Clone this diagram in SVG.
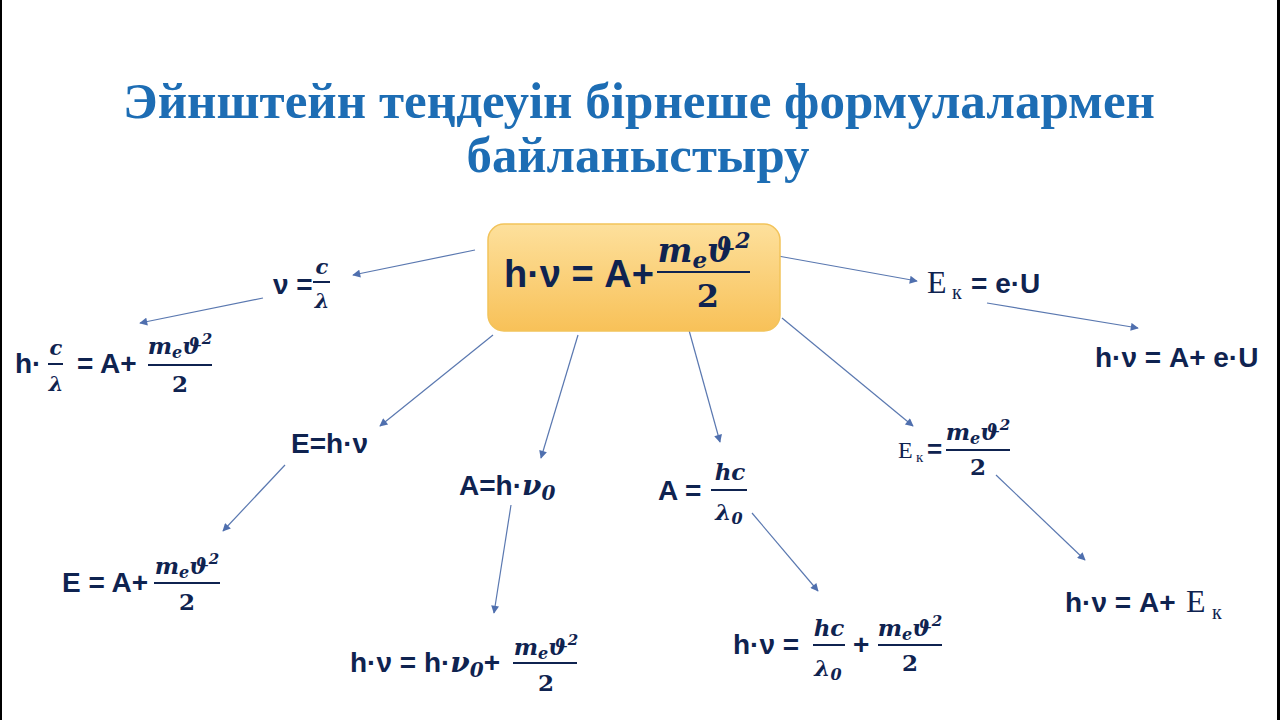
<svg xmlns="http://www.w3.org/2000/svg" width="1280" height="720" viewBox="0 0 1280 720">
<defs>
<linearGradient id="gBox" x1="0" y1="0" x2="0" y2="1">
<stop offset="0" stop-color="#fde09c"/>
<stop offset="1" stop-color="#f8c158"/>
</linearGradient>
<marker id="arr" viewBox="0 0 10 10" refX="9" refY="5" markerWidth="10" markerHeight="8" markerUnits="userSpaceOnUse" orient="auto">
<path d="M0,0 L10,5 L0,10 z" fill="#4f6fae"/>
</marker>
<style>
.t{font-family:"Liberation Serif","Times New Roman",serif;font-weight:bold;fill:#1d6db4;font-size:51px;text-anchor:middle}
.f{font-family:"Liberation Sans",Arial,sans-serif;font-weight:bold;fill:#0f2350;font-size:28px}
.m{font-family:"DejaVu Serif","Liberation Serif",serif;font-weight:bold;font-style:italic;fill:#0f2350;font-size:23px;text-anchor:middle}
.n{font-family:"DejaVu Serif","Liberation Serif",serif;font-weight:bold;fill:#0f2350;font-size:23px;text-anchor:middle}
.mi{font-family:"DejaVu Serif","Liberation Serif",serif;font-weight:bold;font-style:italic}
.s{font-family:"Liberation Serif","Times New Roman",serif;fill:#0f2350}
.fl{stroke:#0f2350;stroke-width:2}
.c{stroke:#5a78b0;stroke-width:1.2;fill:none;marker-end:url(#arr)}
</style>
</defs>
<rect width="1280" height="720" fill="#ffffff"/>
<rect x="0" y="0" width="2" height="720" fill="#000"/>
<rect x="1277" y="0" width="3" height="720" fill="#000"/>

<g id="title">
<text class="t" x="639" y="118" textLength="1032" lengthAdjust="spacingAndGlyphs">Эйнштейн теңдеуін бірнеше формулалармен</text>
<text class="t" x="638" y="172" textLength="343" lengthAdjust="spacingAndGlyphs">байланыстыру</text>
</g>

<g id="connectors">
<line class="c" x1="475" y1="250" x2="353" y2="275"/>
<line class="c" x1="263" y1="298" x2="140" y2="323"/>
<line class="c" x1="778" y1="256" x2="917" y2="281"/>
<line class="c" x1="987" y1="303" x2="1138" y2="328"/>
<line class="c" x1="493" y1="335" x2="380" y2="426"/>
<line class="c" x1="578" y1="335" x2="541" y2="458"/>
<line class="c" x1="687" y1="323" x2="720" y2="442"/>
<line class="c" x1="782" y1="318" x2="913" y2="426"/>
<line class="c" x1="285" y1="465" x2="223" y2="531"/>
<line class="c" x1="511" y1="505" x2="494" y2="613"/>
<line class="c" x1="752" y1="513" x2="818" y2="591"/>
<line class="c" x1="996" y1="475" x2="1085" y2="560"/>
</g>

<g id="center">
<rect x="488" y="224" width="292" height="107" rx="16" fill="url(#gBox)" stroke="#f2c35a" stroke-width="1.5"/>
<text class="f" x="504" y="287" style="font-size:38px">h·ν = A+</text>
<text class="m" x="704" y="262" style="font-size:33px">m<tspan font-size="23" dy="6">e</tspan><tspan dy="-6">ϑ</tspan><tspan font-size="22" dy="-14">2</tspan></text>
<line class="fl" x1="657" y1="272" x2="750" y2="272" stroke-width="3"/>
<text class="n" x="708" y="307" style="font-size:32px">2</text>
</g>

<g id="n-nu">
<text class="f" x="273" y="294">ν =</text>
<text class="m" x="322" y="274" style="font-size:21px">c</text>
<line class="fl" x1="313" y1="282" x2="330" y2="282" stroke-width="1.5"/>
<text class="m" x="322" y="308" style="font-size:21px">λ</text>
</g>

<g id="n-hc-lambda">
<text class="f" x="15" y="373">h·</text>
<text class="m" x="56" y="355" style="font-size:21px">c</text>
<line class="fl" x1="48" y1="364" x2="63" y2="364" stroke-width="1.5"/>
<text class="m" x="56" y="391" style="font-size:21px">λ</text>
<text class="f" x="77" y="373">= A+</text>
<text class="m" x="180" y="354">m<tspan font-size="16" dy="4">e</tspan><tspan dy="-4">ϑ</tspan><tspan font-size="15" dy="-10">2</tspan></text>
<line class="fl" x1="148" y1="365" x2="212" y2="365"/>
<text class="n" x="180" y="392">2</text>
</g>

<g id="n-ek-eu">
<text class="s" x="927" y="293" font-size="32">E</text>
<text class="s" x="952" y="299" font-size="20">к</text>
<text class="f" x="971" y="293">= e·U</text>
</g>

<g id="n-hv-aeu">
<text class="f" x="1095" y="367">h·ν = A+ e·U</text>
</g>

<g id="n-ehv">
<text class="f" x="291" y="453">E=h·ν</text>
</g>

<g id="n-ahv0">
<text class="f" x="459" y="495">A=h·<tspan class="mi" font-size="28">ν</tspan><tspan class="mi" font-size="20" dy="5">0</tspan></text>
</g>

<g id="n-a-hc">
<text class="f" x="658" y="500">A =</text>
<text class="m" x="730" y="480">hc</text>
<line class="fl" x1="711" y1="490" x2="747" y2="490"/>
<text class="m" x="729" y="520">λ<tspan font-size="16" dy="4">0</tspan></text>
</g>

<g id="n-ek-mv">
<text class="s" x="898" y="458" font-size="24">E</text>
<text class="s" x="916" y="462" font-size="15">к</text>
<text class="f" x="927" y="458" style="font-size:26px">=</text>
<text class="m" x="978" y="440">m<tspan font-size="16" dy="4">e</tspan><tspan dy="-4">ϑ</tspan><tspan font-size="15" dy="-10">2</tspan></text>
<line class="fl" x1="946" y1="450" x2="1010" y2="450"/>
<text class="n" x="978" y="475">2</text>
</g>

<g id="n-e-a">
<text class="f" x="62" y="592">E = A+</text>
<text class="m" x="187" y="574">m<tspan font-size="16" dy="4">e</tspan><tspan dy="-4">ϑ</tspan><tspan font-size="15" dy="-10">2</tspan></text>
<line class="fl" x1="154" y1="583" x2="220" y2="583"/>
<text class="n" x="187" y="610">2</text>
</g>

<g id="n-hv-hv0">
<text class="f" x="350" y="672">h·ν = h·<tspan class="mi" font-size="28">ν</tspan><tspan class="mi" font-size="20" dy="5">0</tspan><tspan dy="-5">+</tspan></text>
<text class="m" x="546" y="655">m<tspan font-size="16" dy="4">e</tspan><tspan dy="-4">ϑ</tspan><tspan font-size="15" dy="-10">2</tspan></text>
<line class="fl" x1="513" y1="663" x2="577" y2="663"/>
<text class="n" x="546" y="691">2</text>
</g>

<g id="n-hv-hc">
<text class="f" x="733" y="654">h·ν =</text>
<text class="m" x="829" y="636">hc</text>
<line class="fl" x1="813" y1="645" x2="845" y2="645"/>
<text class="m" x="828" y="676">λ<tspan font-size="16" dy="4">0</tspan></text>
<text class="f" x="853" y="654">+</text>
<text class="m" x="910" y="636">m<tspan font-size="16" dy="4">e</tspan><tspan dy="-4">ϑ</tspan><tspan font-size="15" dy="-10">2</tspan></text>
<line class="fl" x1="878" y1="645" x2="942" y2="645"/>
<text class="n" x="910" y="671">2</text>
</g>

<g id="n-hv-aek">
<text class="f" x="1065" y="612">h·ν = A+</text>
<text class="s" x="1186" y="612" font-size="32">E</text>
<text class="s" x="1212" y="619" font-size="20">к</text>
</g>
</svg>
